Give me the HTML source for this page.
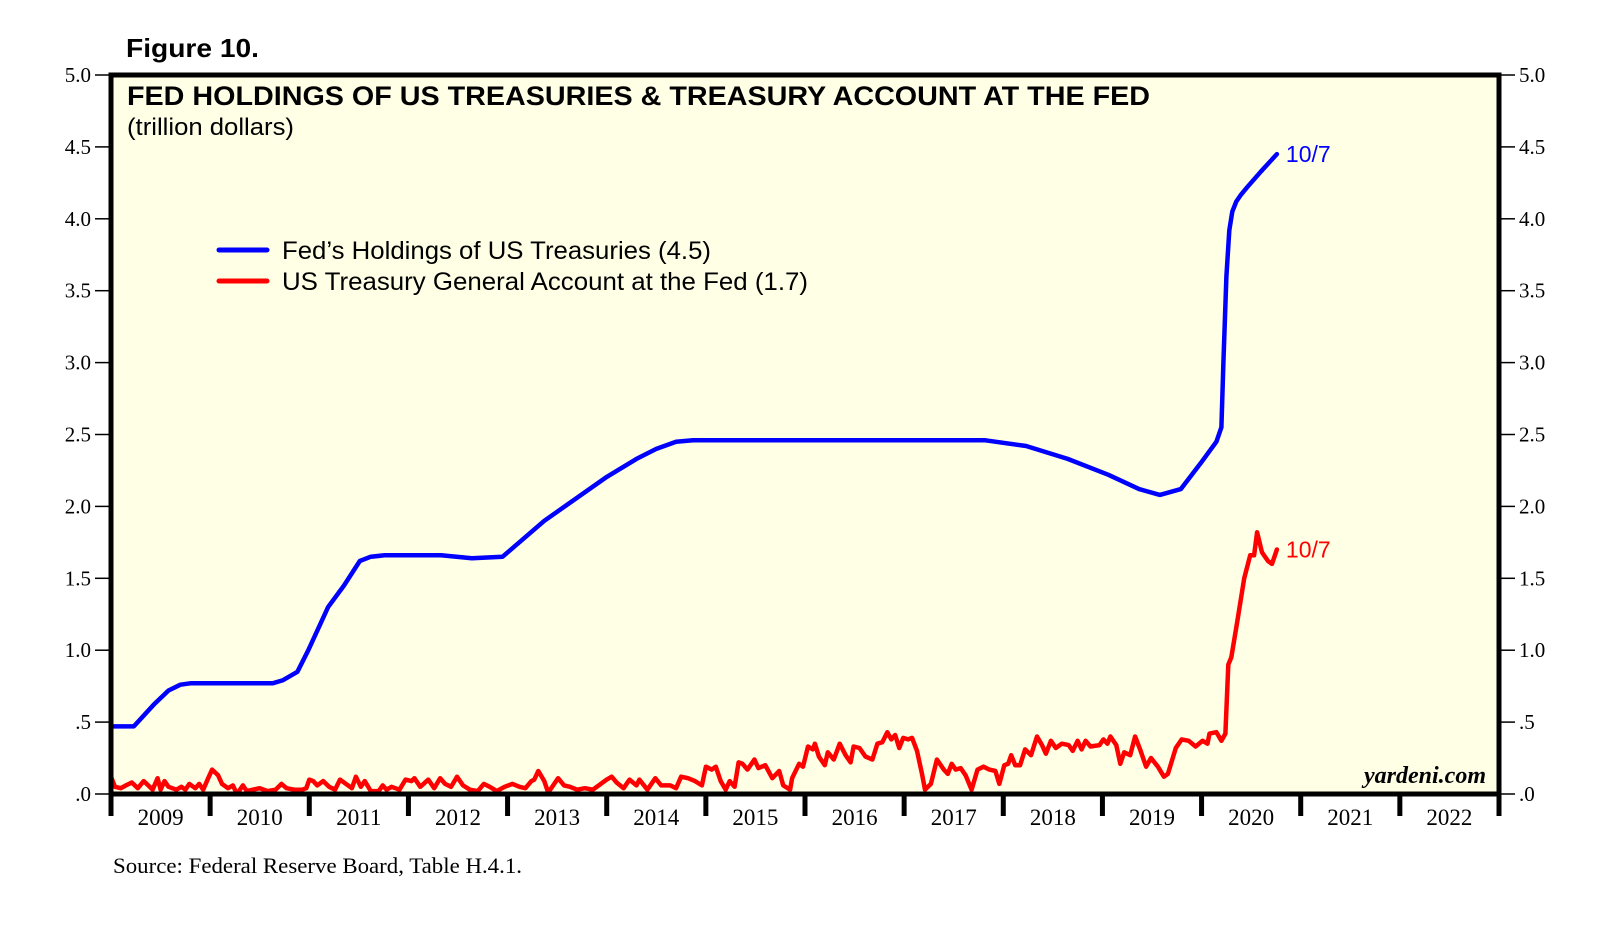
<!DOCTYPE html>
<html><head><meta charset="utf-8"><style>
html,body{margin:0;padding:0;background:#fff;}
svg{display:block;}
.sans{font-family:"Liberation Sans",Arial,sans-serif;}
.serif{font-family:"Liberation Serif","Times New Roman",serif;}
</style></head><body>
<svg id="chart" width="1610" height="927" viewBox="0 0 1610 927">
  <text x="126" y="57" class="sans" font-size="26" font-weight="bold" textLength="133" lengthAdjust="spacingAndGlyphs">Figure 10.</text>
  <rect x="111" y="75" width="1388" height="719" fill="#FFFFE6"/>
  <g id="yticks"></g>
  <g id="xticks"></g>
  <g id="series"></g>
  <rect x="111" y="75" width="1388" height="719" fill="none" stroke="#000" stroke-width="5"/>
  <text x="127" y="105" class="sans" font-size="27" font-weight="bold" textLength="1023" lengthAdjust="spacingAndGlyphs">FED HOLDINGS OF US TREASURIES &amp; TREASURY ACCOUNT AT THE FED</text>
  <text x="127" y="135" class="sans" font-size="24" textLength="167" lengthAdjust="spacingAndGlyphs">(trillion dollars)</text>
  <line x1="219" y1="250" x2="267" y2="250" stroke="#0000FF" stroke-width="5" stroke-linecap="round"/>
  <text x="282" y="259" class="sans" font-size="25" textLength="429" lengthAdjust="spacingAndGlyphs">Fed’s Holdings of US Treasuries (4.5)</text>
  <line x1="219" y1="281" x2="267" y2="281" stroke="#FF0000" stroke-width="5" stroke-linecap="round"/>
  <text x="282" y="290" class="sans" font-size="25" textLength="526" lengthAdjust="spacingAndGlyphs">US Treasury General Account at the Fed (1.7)</text>
  <text x="1486" y="783" text-anchor="end" class="serif" font-size="24" font-style="italic" font-weight="bold">yardeni.com</text>
  <text x="113" y="873" class="serif" font-size="22" textLength="409" lengthAdjust="spacingAndGlyphs">Source: Federal Reserve Board, Table H.4.1.</text>
</svg>
<script>
const yTicks = [0, 0.5, 1.0, 1.5, 2.0, 2.5, 3.0, 3.5, 4.0, 4.5, 5.0];
const yTickLabels = [".0", ".5", "1.0", "1.5", "2.0", "2.5", "3.0", "3.5", "4.0", "4.5", "5.0"];
const years = [2009,2010,2011,2012,2013,2014,2015,2016,2017,2018,2019,2020,2021,2022];
const holdingsDates = [2009.00,2009.23,2009.43,2009.58,2009.70,2009.80,2010.63,2010.73,2010.88,2010.99,2011.19,2011.35,2011.51,2011.62,2011.76,2012.02,2012.33,2012.64,2012.95,2013.37,2013.99,2014.30,2014.50,2014.70,2014.87,2017.82,2018.23,2018.65,2019.06,2019.37,2019.58,2019.79,2019.99,2020.15,2020.20,2020.22,2020.25,2020.28,2020.31,2020.35,2020.40,2020.46,2020.60,2020.76];
const holdingsValues = [0.47,0.47,0.62,0.72,0.76,0.77,0.77,0.79,0.85,1.00,1.30,1.45,1.62,1.65,1.66,1.66,1.66,1.64,1.65,1.90,2.20,2.33,2.40,2.45,2.46,2.46,2.42,2.33,2.22,2.12,2.08,2.12,2.30,2.45,2.55,3.00,3.60,3.92,4.05,4.12,4.17,4.22,4.33,4.45];
const tgaDates = [2009.00,2009.04,2009.10,2009.15,2009.21,2009.27,2009.33,2009.39,2009.42,2009.47,2009.50,2009.54,2009.58,2009.66,2009.71,2009.75,2009.79,2009.85,2009.89,2009.93,2009.98,2010.02,2010.08,2010.12,2010.18,2010.23,2010.27,2010.33,2010.37,2010.43,2010.50,2010.58,2010.66,2010.72,2010.77,2010.85,2010.93,2010.97,2011.00,2011.04,2011.08,2011.14,2011.20,2011.26,2011.31,2011.37,2011.43,2011.47,2011.52,2011.56,2011.62,2011.70,2011.74,2011.78,2011.83,2011.91,2011.97,2012.03,2012.06,2012.12,2012.20,2012.26,2012.32,2012.37,2012.43,2012.49,2012.55,2012.62,2012.70,2012.76,2012.82,2012.89,2012.97,2013.05,2013.12,2013.18,2013.24,2013.27,2013.31,2013.37,2013.41,2013.47,2013.51,2013.57,2013.63,2013.70,2013.78,2013.86,2013.90,
2014.00,2014.05,2014.10,2014.17,2014.23,2014.30,2014.33,2014.41,2014.49,2014.55,2014.64,2014.70,2014.75,2014.82,2014.89,2014.96,2015.00,2015.06,2015.10,2015.15,2015.20,2015.24,2015.29,2015.33,2015.37,2015.42,2015.49,2015.53,2015.60,2015.67,2015.74,2015.78,2015.85,2015.87,2015.94,2015.98,2016.03,2016.08,2016.10,2016.14,2016.20,2016.23,2016.29,2016.35,2016.41,2016.46,2016.49,2016.55,2016.61,2016.68,2016.73,2016.78,2016.83,2016.87,2016.91,2016.95,2016.99,2017.04,2017.08,2017.13,2017.18,2017.21,2017.27,2017.33,2017.40,2017.44,2017.48,2017.52,2017.57,2017.62,2017.68,2017.74,2017.80,2017.86,2017.92,2017.96,2018.01,2018.05,2018.08,2018.12,2018.17,2018.22,2018.28,2018.34,2018.39,2018.43,2018.48,2018.53,2018.59,2018.66,2018.70,2018.75,2018.79,2018.83,2018.88,2018.97,2019.01,2019.05,2019.08,2019.14,2019.18,2019.22,2019.28,2019.33,2019.38,2019.44,2019.49,2019.56,2019.62,2019.66,2019.74,2019.80,2019.87,2019.94,2020.01,2020.06,2020.08,2020.15,2020.20,2020.24,2020.27,2020.30,2020.36,2020.43,2020.49,2020.53,2020.56,2020.61,2020.67,2020.71,2020.76];
const tgaValues = [0.12,0.05,0.04,0.06,0.08,0.04,0.09,0.05,0.03,0.11,0.03,0.09,0.05,0.03,0.05,0.03,0.07,0.04,0.07,0.03,0.11,0.17,0.13,0.07,0.04,0.06,0.00,0.06,0.02,0.03,0.04,0.02,0.03,0.07,0.04,0.03,0.03,0.04,0.10,0.09,0.06,0.09,0.05,0.03,0.10,0.07,0.04,0.12,0.05,0.09,0.02,0.02,0.06,0.03,0.05,0.03,0.10,0.09,0.11,0.05,0.10,0.04,0.11,0.07,0.05,0.12,0.06,0.03,0.02,0.07,0.05,0.02,0.05,0.07,0.05,0.04,0.09,0.10,0.16,0.09,0.01,0.07,0.11,0.06,0.05,0.03,0.04,0.03,0.05,
0.10,0.12,0.08,0.04,0.10,0.06,0.10,0.03,0.11,0.06,0.06,0.04,0.12,0.11,0.09,0.06,0.19,0.17,0.19,0.09,0.03,0.09,0.05,0.22,0.21,0.17,0.24,0.18,0.20,0.11,0.16,0.06,0.03,0.11,0.21,0.19,0.33,0.31,0.35,0.26,0.20,0.29,0.24,0.35,0.27,0.22,0.33,0.32,0.26,0.24,0.35,0.36,0.43,0.38,0.41,0.32,0.39,0.38,0.39,0.30,0.14,0.03,0.07,0.24,0.17,0.14,0.21,0.17,0.18,0.13,0.03,0.17,0.19,0.17,0.16,0.07,0.20,0.21,0.27,0.20,0.20,0.31,0.27,0.40,0.34,0.28,0.37,0.32,0.35,0.34,0.30,0.37,0.31,0.37,0.33,0.34,0.38,0.35,0.40,0.34,0.21,0.29,0.27,0.40,0.31,0.19,0.25,0.19,0.12,0.14,0.32,0.38,0.37,0.33,0.37,0.35,0.42,0.43,0.37,0.42,0.90,0.95,1.20,1.50,1.66,1.66,1.82,1.68,1.62,1.60,1.70];

const X0 = 111, X1 = 1499, Y0 = 794, Y1 = 75;
const xMin = 2009, xMax = 2023, yMin = 0, yMax = 5;
const xs = v => X0 + (v - xMin) / (xMax - xMin) * (X1 - X0);
const ys = v => Y0 - (v - yMin) / (yMax - yMin) * (Y0 - Y1);
const NS = "http://www.w3.org/2000/svg";
function mk(tag, attrs, parent) {
  const e = document.createElementNS(NS, tag);
  for (const k in attrs) e.setAttribute(k, attrs[k]);
  parent.appendChild(e);
  return e;
}
const yg = document.getElementById('yticks');
yTicks.forEach((t, i) => {
  const y = ys(t);
  let l = mk('line', {x1: 95, x2: X0, y1: y, y2: y, stroke: '#000', 'stroke-width': 1.5}, yg);
  
  
  let r = mk('line', {x1: X1, x2: 1515, y1: y, y2: y, stroke: '#000', 'stroke-width': 1.5}, yg);
  
  
  let tl = mk('text', {x: 91, y: y + 7, 'text-anchor': 'end', class: 'serif', 'font-size': 21}, yg);
  tl.textContent = yTickLabels[i];
  
  
  let tr = mk('text', {x: 1519, y: y + 7, class: 'serif', 'font-size': 21}, yg);
  tr.textContent = yTickLabels[i];
  
  
});
const xg = document.getElementById('xticks');
years.concat([xMax]).forEach(yr => {
  const x = xs(yr);
  let t = mk('line', {x1: x, x2: x, y1: Y0, y2: 816, stroke: '#000', 'stroke-width': 5}, xg);
  
  
});
years.forEach(yr => {
  let lab = mk('text', {x: xs(yr + 0.5), y: 825, 'text-anchor': 'middle', class: 'serif', 'font-size': 23}, xg);
  lab.textContent = String(yr);
  
  
});
const sg = document.getElementById('series');
function line(dates, vals, color, name) {
  const d = dates.map((t, i) => (i ? 'L' : 'M') + xs(t).toFixed(1) + ',' + ys(vals[i]).toFixed(1)).join(' ');
  const p = mk('path', {d: d, fill: 'none', stroke: color, 'stroke-width': 4.5, 'stroke-linejoin': 'round', 'stroke-linecap': 'round'}, sg);
  
  
  const lt = dates[dates.length - 1], lv = vals[vals.length - 1];
  const a = mk('text', {x: xs(lt) + 9, y: ys(lv) + 8, class: 'sans', 'font-size': 23, fill: color}, sg);
  a.textContent = '10/7';
  
  
}
line(tgaDates, tgaValues, '#FF0000', 'tga-line');
line(holdingsDates, holdingsValues, '#0000FF', 'holdings-line');
</script>
</body></html>
